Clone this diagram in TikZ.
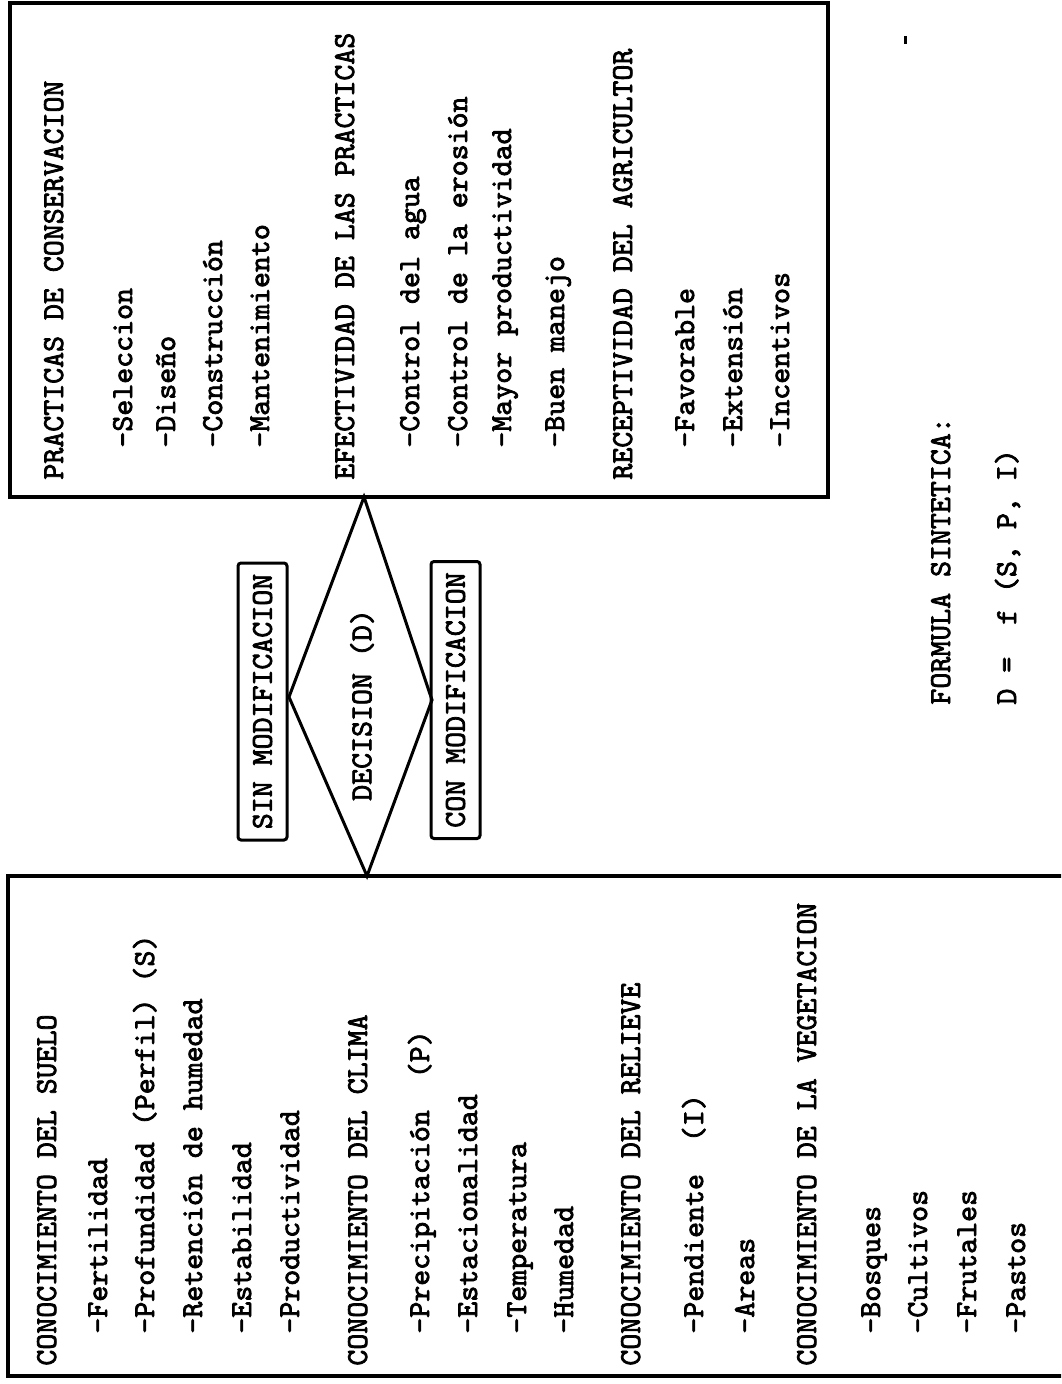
\documentclass[tikz,border=0pt]{standalone}
\usepackage{fontspec}
\newfontfamily\tw{lmmono10-regular}[Extension=.otf, FakeBold=2.5]
\begin{document}
\begin{tikzpicture}[x=0.5pt,y=-0.5pt,
  tw/.style={font=\tw\fontsize{15.2}{18}\selectfont},
  lbl/.style={tw, rotate=90, anchor=base west, inner sep=0pt},
  bigbox/.style={draw, line width=2pt, inner sep=0pt},
  tagbox/.style={tw, draw, line width=1.5pt, rounded corners=1.5pt, rotate=90, minimum width=138.5pt, minimum height=24.5pt, inner sep=0pt},
  ctext/.style={tw, rotate=90, inner sep=0pt},
  edge/.style={line width=1.5pt, line join=miter}]
\useasboundingbox (0,0) rectangle (1061,1384);
\clip (0,0) rectangle (1061,1384);
\fill[white] (0,0) rectangle (1061,1384);

% boxes
\node[bigbox, minimum width=409pt, minimum height=247pt] (topbox) at (419,250) {};
\node[bigbox, minimum width=546pt, minimum height=250pt] (botbox) at (554,1126) {};

% top box texts
\foreach \xx/\yy/\txt [count=\i] in {
  63/480/{PRACTICAS DE CONSERVACION},
  132/448/{-Seleccion},
  175/448/{-Diseño},
  222/448/{-Construcción},
  269/448/{-Mantenimiento},
  354/480/{EFECTIVIDAD DE LAS PRACTICAS},
  419/448/{-Control del agua},
  467/448/{-Control de la erosión},
  511/448/{-Mayor productividad},
  564/448/{-Buen manejo},
  632/480/{RECEPTIVIDAD DEL AGRICULTOR},
  694/448/{-Favorable},
  742/448/{-Extensión},
  789/448/{-Incentivos}}
  \node[lbl] (t\i) at (\xx,\yy) {\txt};

% bottom box texts
\foreach \xx/\yy/\txt [count=\i] in {
  56/1366/{CONOCIMIENTO DEL SUELO},
  107/1334/{-Fertilidad},
  154/1334/{-Profundidad (Perfil) (S)},
  202/1334/{-Retención de humedad},
  251/1334/{-Estabilidad},
  299/1334/{-Productividad},
  367/1366/{CONOCIMIENTO DEL CLIMA},
  429/1334/{-Precipitación~~(P)},
  477/1334/{-Estacionalidad},
  526/1334/{-Temperatura},
  573/1334/{-Humedad},
  640/1366/{CONOCIMIENTO DEL RELIEVE},
  703/1334/{-Pendiente~~(I)},
  754/1334/{-Areas},
  816/1366/{CONOCIMIENTO DE LA VEGETACION},
  880/1334/{-Bosques},
  927/1334/{-Cultivos},
  976/1334/{-Frutales},
  1025/1334/{-Pastos}}
  \node[lbl] (b\i) at (\xx,\yy) {\txt};

% decision diamond
\coordinate (dT) at (364,497);
\coordinate (dB) at (367,876);
\coordinate (dL) at (289,697);
\coordinate (dR) at (432,700);
\draw[edge] (dT) -- (dR) -- (dB) -- (dL) -- cycle;
\node[ctext] (dec) at (362,705) {DECISION (D)};

% tags
\node[tagbox] (sin) at (262.5,701.5) {SIN MODIFICACION};
\node[tagbox] (con) at (455.5,700) {CON MODIFICACION};

% formula
\node[lbl] (f1) at (950,705) {FORMULA SINTETICA:};
\node[lbl] (f2) at (1016,705) {D =~~f (S, P, I)};

% stray mark
\draw[line width=1.5pt] (905,36) -- (905,44);
\end{tikzpicture}
\end{document}
